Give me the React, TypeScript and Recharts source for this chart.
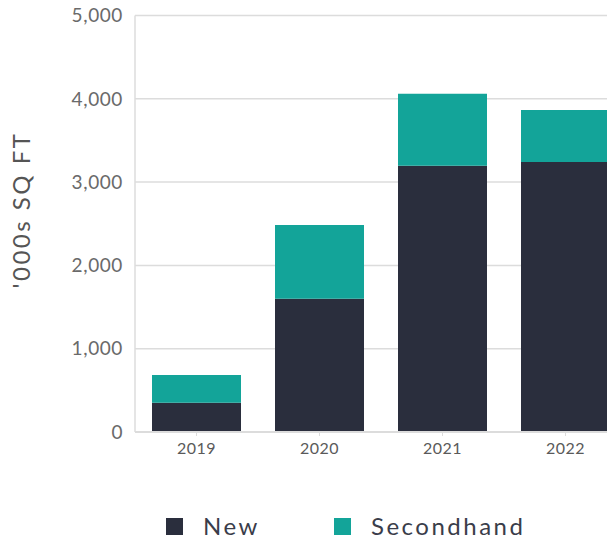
import React from "react";
import { BarChart, Bar, XAxis, YAxis, CartesianGrid, Label } from "recharts";

const years = ["2019", "2020", "2021", "2022"];
const newSpace = [350, 1600, 3195, 3240];
const secondhand = [335, 885, 865, 625];
const yTicks = [0, 1000, 2000, 3000, 4000, 5000];
const seriesNames = ["New", "Secondhand"];

const data = years.map((y, i) => ({ year: y, New: newSpace[i], Secondhand: secondhand[i] }));

const DARK = "#2a2e3d";
const TEAL = "#13a499";
const seriesColors = [DARK, TEAL];
const FONT = "Lato, 'Open Sans', sans-serif";

export default function App() {
  return (
    <div style={{ position: "absolute", left: 0, top: 0, width: 607, height: 539, overflow: "hidden", background: "#fff" }}>
      <BarChart
        width={640}
        height={539}
        data={data}
        margin={{ top: 15.5, right: 13, bottom: 77, left: 0 }}
        barSize={89}
      >
        <CartesianGrid vertical={false} stroke="#dcdcdc" strokeWidth={1.5} />
        <XAxis
          dataKey="year"
          height={30}
          axisLine={{ stroke: "#dcdcdc", strokeWidth: 2 }}
          tickLine={{ stroke: "#dcdcdc" }}
          tickSize={4}
          tickMargin={7}
          tick={{ fill: "#5a5a5a", fontSize: 16, fontFamily: FONT, letterSpacing: 0.5 }}
        />
        <YAxis
          width={135}
          domain={[0, 5000]}
          ticks={yTicks}
          axisLine={{ stroke: "#dcdcdc", strokeWidth: 1.5 }}
          tickLine={false}
          tickSize={0}
          tickMargin={12}
          tickFormatter={(v: number) => v.toLocaleString("en-US")}
          tick={{ fill: "#6a6a6a", fontSize: 19, fontFamily: FONT, letterSpacing: 0.6 }}
        >
          <Label
            content={() => (
              <text
                x={30}
                y={210}
                transform="rotate(-90 30 210)"
                textAnchor="middle"
                fill="#555"
                fontSize={24}
                fontFamily={FONT}
                letterSpacing={2.5}
              >
                '000s SQ FT
              </text>
            )}
          />
        </YAxis>
        <Bar dataKey="New" stackId="a" fill={DARK} isAnimationActive={false} />
        <Bar dataKey="Secondhand" stackId="a" fill={TEAL} isAnimationActive={false} />
      </BarChart>
      {seriesNames.map((name, i) => (
        <div
          key={name}
          style={{
            position: "absolute",
            left: 166 + i * 168,
            top: 515,
            display: "flex",
            alignItems: "center",
            height: 22,
            whiteSpace: "nowrap",
            fontFamily: FONT,
          }}
        >
          <span style={{ display: "inline-block", flexShrink: 0, width: 17, height: 17, background: seriesColors[i], marginRight: 20 }} />
          <span style={{ fontSize: 24, lineHeight: "22px", color: "#3a3d4a", letterSpacing: 2.5 }}>{name}</span>
        </div>
      ))}
    </div>
  );
}
